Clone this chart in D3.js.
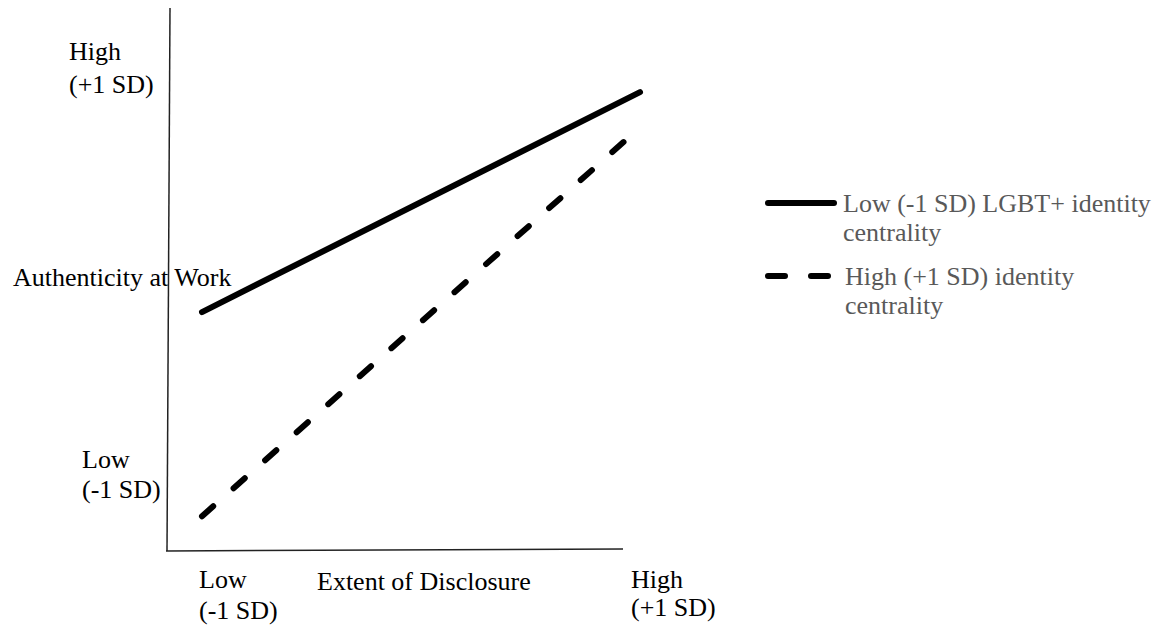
<!DOCTYPE html>
<html>
<head>
<meta charset="utf-8">
<script src="https://cdn.jsdelivr.net/npm/d3@7"></script>
<style>
  body { margin: 0; background: #fff; }
  text { font-family: "Liberation Serif", "Times New Roman", serif; font-size: 26px; }
</style>
</head>
<body>
<div id="chart"></div>
<script>
// Simple slopes: authenticity at work by extent of disclosure
const disclosureLevels = ["Low", "High"];
const lowCentrality = [4.4, 8.45];   // solid line
const highCentrality = [0.64, 7.8];  // dashed line
const seriesNames = ["Low (-1 SD) LGBT+ identity centrality", "High (+1 SD) identity centrality"];

const w = 1170, h = 631;
const margin = { top: 8, right: 530, bottom: 80, left: 168 };

const svg = d3.select("#chart").append("svg")
    .attr("width", w)
    .attr("height", h);

// Scales
const x = d3.scalePoint()
    .domain(disclosureLevels)
    .range([202, 640]);

const y = d3.scaleLinear()
    .domain([0, 10])
    .range([h - margin.bottom, margin.top]);

// Axes (plain lines, no ticks)
svg.append("line")
    .attr("x1", margin.left + 2).attr("y1", y(10))
    .attr("x2", margin.left - 1).attr("y2", y(0))
    .attr("stroke", "#222").attr("stroke-width", 1.5);

svg.append("line")
    .attr("x1", margin.left - 2).attr("y1", y(0))
    .attr("x2", 623).attr("y2", y(0) - 2)
    .attr("stroke", "#222").attr("stroke-width", 1.5);

const line = d3.line()
    .x((d, i) => x(disclosureLevels[i]))
    .y(d => y(d));

svg.append("path")
    .datum(lowCentrality)
    .attr("d", line)
    .attr("fill", "none")
    .attr("stroke", "#000")
    .attr("stroke-width", 6)
    .attr("stroke-linecap", "round");

svg.append("path")
    .datum(highCentrality)
    .attr("d", line)
    .attr("fill", "none")
    .attr("stroke", "#000")
    .attr("stroke-width", 6)
    .attr("stroke-linecap", "round")
    .attr("stroke-dasharray", "15,27.2");

// Y labels
const yLabels = [
    { lines: ["High", "(+1 SD)"], x: 69, y: 60, dy: 33 },
    { lines: ["Authenticity at Work"], x: 13, y: 286, dy: 0 },
    { lines: ["Low", "(-1 SD)"], x: 82, y: 468, dy: 30 }
];
// X labels
const xLabels = [
    { lines: ["Low", "(-1 SD)"], x: 199, y: 588, dy: 31 },
    { lines: ["Extent of Disclosure"], x: 317, y: 590, dy: 0 },
    { lines: ["High", "(+1 SD)"], x: 631, y: 588, dy: 28 }
];

yLabels.concat(xLabels).forEach(l => {
    const t = svg.append("text").attr("x", l.x).attr("y", l.y).attr("fill", "#000");
    l.lines.forEach((s, i) => {
        t.append("tspan").attr("x", l.x).attr("dy", i === 0 ? 0 : l.dy).text(s);
    });
});

// Legend
const legend = svg.append("g");
const legendRows = [
    { name: seriesNames[0], lines: ["Low (-1 SD) LGBT+ identity", "centrality"], y: 203, dash: null, tx: 843 },
    { name: seriesNames[1], lines: ["High (+1 SD) identity", "centrality"], y: 276, dash: "17,26", tx: 845 }
];

legendRows.forEach(r => {
    legend.append("line")
        .attr("x1", r.dash ? 768 : 768).attr("x2", r.dash ? 828 : 834)
        .attr("y1", r.y).attr("y2", r.y)
        .attr("stroke", "#000")
        .attr("stroke-width", 6)
        .attr("stroke-linecap", "round")
        .attr("stroke-dasharray", r.dash);
    const t = legend.append("text")
        .attr("x", r.tx).attr("y", r.y + 9)
        .attr("fill", "#595959");
    r.lines.forEach((s, i) => {
        t.append("tspan").attr("x", r.tx).attr("dy", i === 0 ? 0 : 29).text(s);
    });
});
</script>
</body>
</html>
